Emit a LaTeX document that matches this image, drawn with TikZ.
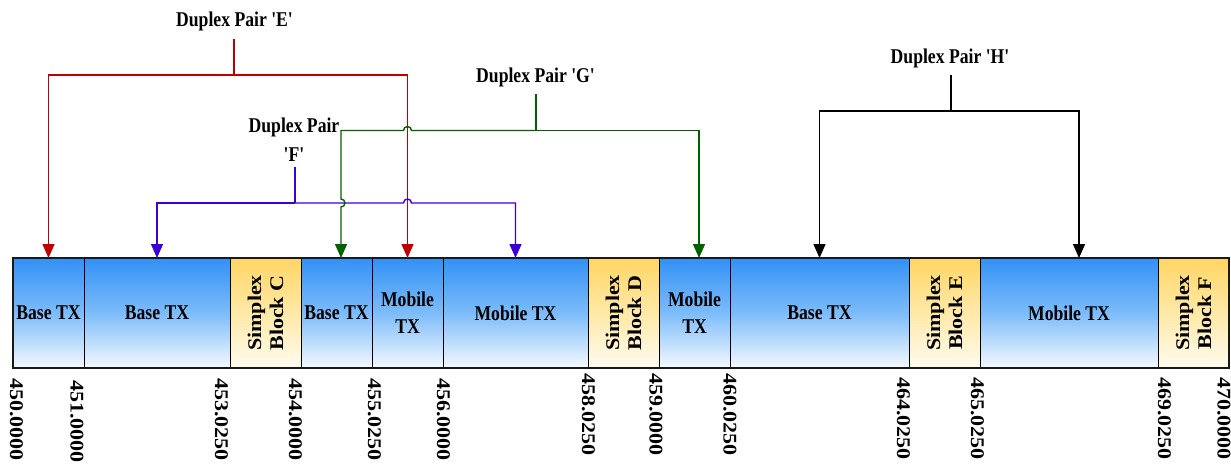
\documentclass[tikz,border=0pt]{standalone}
\usepackage{fontspec}
\newfontfamily\dfont{Liberation Serif}
\usetikzlibrary{arrows.meta}
\definecolor{cred}{RGB}{192,0,0}
\definecolor{cblue}{RGB}{60,0,215}
\definecolor{cgreen}{RGB}{0,97,0}
\definecolor{btop}{RGB}{50,145,245}
\definecolor{bmid}{RGB}{125,188,250}
\definecolor{bbot}{RGB}{246,250,255}
\definecolor{ytop}{RGB}{255,214,100}
\definecolor{ymid}{RGB}{255,233,168}
\definecolor{ybot}{RGB}{255,251,240}
\begin{document}
\begin{tikzpicture}[x=1pt,y=-1pt,
  cellbox/.style={draw=black, line width=0.9pt, minimum height=110pt, inner sep=0pt, outer sep=0pt, anchor=north west},
  bluecell/.style={cellbox, top color=btop, bottom color=bbot, middle color=bmid},
  yelcell/.style={cellbox, top color=ytop, bottom color=ybot, middle color=ymid},
  hlbl/.style={font={\dfont\fontsize{21}{27}\selectfont\bfseries}, xscale=0.84, align=center, inner sep=0pt},
  vlbl/.style={font={\dfont\fontsize{22}{25}\selectfont\bfseries}, xscale=0.88, rotate=90, align=center, inner sep=0pt},
  tick/.style={font={\dfont\fontsize{22}{25}\selectfont\bfseries}, xscale=0.88, rotate=-90, anchor=west, inner sep=0pt},
  conn/.style={line width=1.4pt},
  tip/.style={-{Triangle[width=12pt,length=14pt]}},
  pE/.style={conn, draw=cred, fill=none},
  pF/.style={conn, draw=cblue},
  pG/.style={conn, draw=cgreen},
  pH/.style={conn, draw=black},
]
\useasboundingbox (0,0) rectangle (1231,463);
\fill[white] (0,0) rectangle (1231,463);

% cells
\node[bluecell, minimum width=71pt]  (c1)  at (13,258)   {};
\node[bluecell, minimum width=146pt] (c2)  at (84,258)   {};
\node[yelcell,  minimum width=71pt]  (c3)  at (230,258)  {};
\node[bluecell, minimum width=71pt]  (c4)  at (301,258)  {};
\node[bluecell, minimum width=71pt]  (c5)  at (372,258)  {};
\node[bluecell, minimum width=145pt] (c6)  at (443,258)  {};
\node[yelcell,  minimum width=71pt]  (c7)  at (588,258)  {};
\node[bluecell, minimum width=71pt]  (c8)  at (659,258)  {};
\node[bluecell, minimum width=179pt] (c9)  at (730,258)  {};
\node[yelcell,  minimum width=71pt]  (c10) at (909,258)  {};
\node[bluecell, minimum width=178pt] (c11) at (980,258)  {};
\node[yelcell,  minimum width=71pt]  (c12) at (1158,258) {};
\draw[line width=1.6pt, black!90] (c1.north west) rectangle (c12.south east);

% cell labels
\node[hlbl] at (c1)  {Base TX};
\node[hlbl] at (c2)  {Base TX};
\node[vlbl] at (c3)  {Simplex\\Block C};
\node[hlbl] at (c4)  {Base TX};
\node[hlbl] at (c5)  {Mobile\\TX};
\node[hlbl] at (c6)  {Mobile TX};
\node[vlbl] at (c7)  {Simplex\\Block D};
\node[hlbl] at (c8)  {Mobile\\TX};
\node[hlbl] at (c9)  {Base TX};
\node[vlbl] at (c10) {Simplex\\Block E};
\node[hlbl] at (c11) {Mobile TX};
\node[vlbl] at (c12) {Simplex\\Block F};

% frequency ticks
\node[tick] (t1)  at (16.5,378)  {450.0000};
\node[tick] (t2)  at (77,380)    {451.0000};
\node[tick] (t3)  at (221.3,378) {453.0250};
\node[tick] (t4)  at (295.5,378) {454.0000};
\node[tick] (t5)  at (374.5,378) {455.0250};
\node[tick] (t6)  at (443.3,378) {456.0000};
\node[tick] (t7)  at (588.5,373) {458.0250};
\node[tick] (t8)  at (656,373)   {459.0000};
\node[tick] (t9)  at (730,373)   {460.0250};
\node[tick] (t10) at (903.3,377) {464.0250};
\node[tick] (t11) at (977.3,377) {465.0250};
\node[tick] (t12) at (1164.5,377) {469.0250};
\node[tick] (t13) at (1223.8,377) {470.0000};

% duplex pair labels
\node[hlbl, anchor=base] (E) at (234.5,27) {Duplex Pair 'E'};
\node[hlbl, font={\dfont\fontsize{21}{29}\selectfont\bfseries}, anchor=north] (F) at (294,117.5) {Duplex Pair\\'F'};
\node[hlbl, anchor=base] (G) at (535.5,82) {Duplex Pair 'G'};
\node[hlbl, anchor=base] (H) at (950,63) {Duplex Pair 'H'};

% connector junctions
\coordinate (Es) at (234,39);  \coordinate (Ej) at (234,75);
\coordinate (Fs) at (295,167); \coordinate (Fj) at (295,203);
\coordinate (Gs) at (536,94);  \coordinate (Gj) at (536,130.5);
\coordinate (Hs) at (951,75);  \coordinate (Hj) at (951,111);

% pair E (red)
\draw[pE] (Es) -- (Ej);
\draw[pE, tip] (Ej) -| (c1.north);
\draw[pE, tip] (Ej) -| (c5.north);

% pair F (blue)
\draw[pF] (Fs) -- (Fj);
\draw[pF, tip] (Fj) -| (c2.north);
\draw[pF, tip] (Fj) -- (403.5,203) arc[start angle=180, end angle=360, radius=4] -| (c6.north);

% pair G (green)
\draw[pG] (Gs) -- (Gj);
\draw[pG, tip] (Gj) -- (411.5,130.5) arc[start angle=0, end angle=-180, radius=4]
   -- (341,130.5) -- (341,199) arc[start angle=-90, end angle=90, radius=4] -- ([xshift=4.5pt]c4.north);
\draw[pG, tip] (Gj) -| ([xshift=4.5pt]c8.north);

% pair H (black)
\draw[pH] (Hs) -- (Hj);
\draw[pH, tip] (Hj) -| (c9.north);
\draw[pH, tip] (Hj) -| ([xshift=10pt]c11.north);
\end{tikzpicture}
\end{document}
